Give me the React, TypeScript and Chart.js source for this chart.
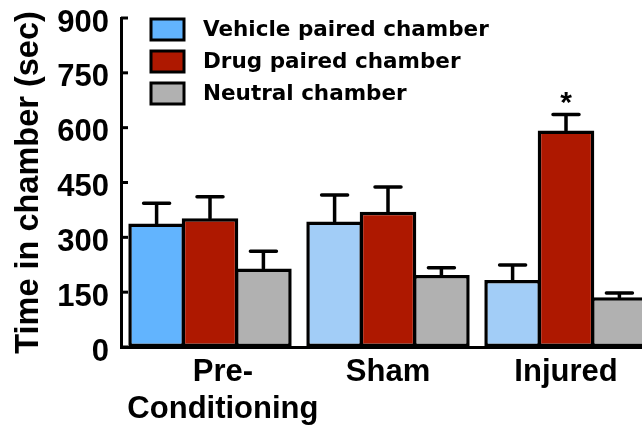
import { useEffect, useRef } from "react";
import { Chart, registerables } from "chart.js";

Chart.register(...registerables);

// Groups on the x axis
const groups: string[][] = [["Pre-", "Conditioning"], ["Sham"], ["Injured"]];
const seriesNames = ["Vehicle paired chamber", "Drug paired chamber", "Neutral chamber"];

// Mean time in chamber (sec)
const vehicleMeans = [338, 343, 183];
const drugMeans = [352, 370, 592];
const neutralMeans = [215, 197, 136];

// Upper error (SEM)
const vehicleErr = [55, 73, 41];
const drugErr = [59, 68, 44];
const neutralErr = [47, 20, 12];

// Significance marks above the drug-paired bars
const drugMarks = ["", "", "*"];

const yTicks = [0, 150, 300, 450, 600, 750, 900];

const VEHICLE_PRE = "#62B4FE";
const VEHICLE = "#A2CDF7";
const DRUG = "#AE1800";
const NEUTRAL = "#B1B1B1";

const FONT = '"Liberation Sans", Arial, sans-serif';
const LEGEND_FONT = '"DejaVu Sans", sans-serif';

const errorBarPlugin = {
  id: "errorBars",
  afterDatasetsDraw(chart: any) {
    const ctx = chart.ctx;
    const y = chart.scales.y;
    const errs = [vehicleErr, drugErr, neutralErr];
    const means = [vehicleMeans, drugMeans, neutralMeans];
    ctx.save();
    ctx.strokeStyle = "#000";
    ctx.lineWidth = 3.5;
    ctx.lineCap = "round";
    errs.forEach((errList, di) => {
      const meta = chart.getDatasetMeta(di);
      meta.data.forEach((bar: any, i: number) => {
        const top = y.getPixelForValue(means[di][i]);
        const capY = y.getPixelForValue(means[di][i] + errList[i]);
        ctx.beginPath();
        ctx.moveTo(bar.x, top);
        ctx.lineTo(bar.x, capY);
        ctx.moveTo(bar.x - 13, capY);
        ctx.lineTo(bar.x + 13, capY);
        ctx.stroke();
        if (di === 1 && drugMarks[i]) {
          ctx.fillStyle = "#000";
          ctx.font = `bold 30px ${FONT}`;
          ctx.textAlign = "center";
          ctx.textBaseline = "alphabetic";
          const m = ctx.measureText(drugMarks[i]);
          const h = m.actualBoundingBoxAscent - m.actualBoundingBoxDescent;
          ctx.fillText(drugMarks[i], bar.x, capY - 9 + h / 2 + m.actualBoundingBoxDescent);
        }
      });
    });
    ctx.restore();
  },
  afterDraw(chart: any) {
    const ctx = chart.ctx;
    const area = chart.chartArea;
    const y = chart.scales.y;
    ctx.save();
    // inward tick marks on the y axis
    ctx.strokeStyle = "#000";
    ctx.lineWidth = 3;
    yTicks.forEach((v) => {
      const py = y.getPixelForValue(v);
      ctx.beginPath();
      ctx.moveTo(area.left, py);
      ctx.lineTo(area.left + 7, py);
      ctx.stroke();
    });
    // legend
    const colors = [VEHICLE_PRE, DRUG, NEUTRAL];
    const bx = area.left + 30;
    const by0 = area.top + 1;
    seriesNames.forEach((name, i) => {
      const by = by0 + i * 32;
      ctx.fillStyle = colors[i];
      ctx.fillRect(bx, by, 33, 21);
      ctx.lineWidth = 3;
      ctx.strokeStyle = "#000";
      ctx.strokeRect(bx, by, 33, 21);
      ctx.fillStyle = "#000";
      ctx.font = `bold 21.5px ${LEGEND_FONT}`;
      ctx.textAlign = "left";
      ctx.textBaseline = "middle";
      ctx.fillText(name, bx + 52, by + 11);
    });
    ctx.restore();
  },
};

export default function App() {
  const canvasRef = useRef<HTMLCanvasElement | null>(null);

  useEffect(() => {
    if (!canvasRef.current) return;
    const chart = new Chart(canvasRef.current, {
      type: "bar",
      data: {
        labels: groups.map((g) => g.join(" ")),
        datasets: [
          {
            label: seriesNames[0],
            data: vehicleMeans,
            backgroundColor: [VEHICLE_PRE, VEHICLE, VEHICLE],
          },
          { label: seriesNames[1], data: drugMeans, backgroundColor: DRUG },
          { label: seriesNames[2], data: neutralMeans, backgroundColor: NEUTRAL },
        ].map((d) => ({
          ...d,
          borderColor: "#000",
          borderWidth: 3.5,
          borderSkipped: false,
          barPercentage: 1.06,
          categoryPercentage: 0.9,
        })),
      },
      options: {
        animation: false,
        responsive: false,
        devicePixelRatio: 1,
        layout: { padding: { top: 18, right: 5, left: 0, bottom: 0 } },
        plugins: {
          legend: { display: false },
          tooltip: { enabled: false },
        },
        scales: {
          x: {
            grid: { display: false, drawTicks: false },
            border: { display: true, color: "#000", width: 3 },
            ticks: {
              color: "#000",
              font: { family: FONT, size: 31, weight: "bold", lineHeight: 1.2 },
              padding: 7,
              maxRotation: 0,
              minRotation: 0,
              autoSkip: false,
              callback: (_v: any, i: number) =>
                i === 0 ? groups[0].map((s) => "   " + s) : groups[i],
            },
            afterFit: (scale: any) => {
              scale.height = 80;
              scale.paddingLeft = 0;
              scale.paddingRight = 0;
            },
          },
          y: {
            min: 0,
            max: 900,
            afterBuildTicks: (scale: any) => {
              scale.ticks = yTicks.map((v) => ({ value: v }));
            },
            grid: { display: false, drawTicks: false },
            border: { display: true, color: "#000", width: 3 },
            ticks: {
              color: "#000",
              font: { family: FONT, size: 31, weight: "bold" },
              padding: 12,
              labelOffset: 5,
            },
            title: {
              display: true,
              text: "Time in chamber (sec)",
              color: "#000",
              font: { family: FONT, size: 32.5, weight: "bold" },
              padding: { top: 10, bottom: 0 },
            },
            afterFit: (scale: any) => {
              scale.width = 121;
              scale.paddingTop = 0;
              scale.paddingBottom = 0;
            },
          },
        },
      },
      plugins: [errorBarPlugin],
    });
    return () => chart.destroy();
  }, []);

  return (
    <div
      style={{
        position: "fixed",
        left: 0,
        top: 0,
        width: 642,
        height: 427,
        overflow: "hidden",
        background: "#fff",
      }}
    >
      <canvas ref={canvasRef} width={660} height={427} style={{ display: "block" }} />
    </div>
  );
}
